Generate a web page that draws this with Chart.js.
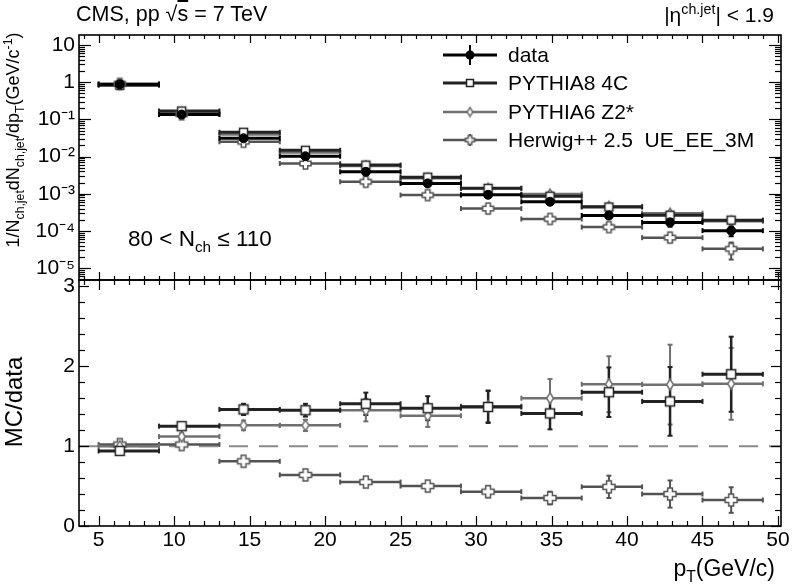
<!DOCTYPE html>
<html><head><meta charset="utf-8">
<script src="https://cdn.jsdelivr.net/npm/chart.js@4.4.1/dist/chart.umd.min.js"></script>
<style>
html,body{margin:0;padding:0;background:#fff;}
#wrap{position:relative;width:793px;height:587px;overflow:hidden;font-family:"Liberation Sans",Arial,Helvetica,sans-serif;color:#000;background:#fff;}
canvas{position:absolute;left:0;top:0;}
.t{position:absolute;white-space:nowrap;line-height:1;}
.t sub,.t sup{font-size:68%;line-height:0;}
.rot{transform:translate(-50%,-50%) rotate(-90deg);transform-origin:center center;}
</style></head><body>
<div id="wrap">
<canvas id="low" width="793" height="587"></canvas>
<canvas id="up" width="793" height="587"></canvas>
<div class="t" style="left:76px;top:4px;font-size:21.5px;">CMS, pp &#8730;<span style="text-decoration:overline">s</span> = 7 TeV</div>
<div class="t" style="right:19px;top:4px;font-size:21px;">|&#951;<sup>ch.jet</sup>| &lt; 1.9</div>
<div class="t" style="left:128px;top:228px;font-size:22.5px;">80 &lt; N<sub>ch</sub> &#8804; 110</div>
<div class="t rot" style="left:13px;top:140px;font-size:18px;">1/N<sub>ch,jet</sub>dN<sub>ch,jet</sub>/dp<sub>T</sub>(GeV/c<sup>-1</sup>)</div>
<div class="t rot" style="left:14px;top:402px;font-size:24px;">MC/data</div>
<div class="t" style="right:18px;top:557px;font-size:23px;">p<sub>T</sub>(GeV/c)</div>
<div class="t" style="left:508px;top:44px;font-size:21px;">data</div>
<div class="t" style="left:508px;top:72px;font-size:21px;">PYTHIA8 4C</div>
<div class="t" style="left:508px;top:101px;font-size:21px;">PYTHIA6 Z2*</div>
<div class="t" style="left:508px;top:129px;font-size:21px;">Herwig++ 2.5&nbsp; UE_EE_3M</div>
</div>
<script>
// ---------- data ----------
const binLo  = [5, 9, 13, 17, 21, 25, 29, 33, 37, 41, 45];
const binHi  = [9, 13, 17, 21, 25, 29, 33, 37, 41, 45, 49];
const meanPt = [6.4, 10.5, 14.6, 18.7, 22.7, 26.8, 30.8, 34.9, 38.8, 42.85, 46.9];

const dataVal = [0.88, 0.135, 0.031, 0.0102, 0.0039, 0.0019, 9.4e-4, 6.1e-4, 2.6e-4, 1.7e-4, 1.02e-4];
const dataErr = [0.03, 0.004, 0.001, 0.0004, 0.00018, 0.0001, 6e-5, 5e-5, 3e-5, 4e-5, 3e-5];
const p8Val   = [0.83, 0.168, 0.045, 0.0148, 0.0059, 0.0028, 0.0014, 8.6e-4, 4.4e-4, 2.65e-4, 1.95e-4];
const p8Err   = [0.01, 0.002, 0.0005, 0.0002, 0.0001, 5e-5, 3e-5, 2e-5, 1.5e-5, 1.2e-5, 1e-5];
const p6Val   = [0.88, 0.152, 0.039, 0.0128, 0.0056, 0.0026, 0.0014, 9.8e-4, 4.6e-4, 3.0e-4, 1.82e-4];
const p6Err   = [0.01, 0.002, 0.0005, 0.0002, 0.0001, 5e-5, 3e-5, 2e-5, 1.5e-5, 1.2e-5, 1e-5];
const hwVal   = [0.90, 0.138, 0.025, 0.0065, 0.0021, 9.2e-4, 4.0e-4, 2.1e-4, 1.27e-4, 6.6e-5, 3.3e-5];
const hwErr   = [0.01, 0.002, 0.0004, 0.0001, 4e-5, 2e-5, 1.5e-5, 1.5e-5, 1.5e-5, 1.5e-5, 1.6e-5];

const p8Ratio    = [0.94, 1.25, 1.46, 1.45, 1.53, 1.475, 1.49, 1.41, 1.675, 1.56, 1.90];
const p8RatioErr = [0.02, 0.04, 0.07, 0.08, 0.14, 0.15, 0.20, 0.20, 0.31, 0.43, 0.47];
const p6Ratio    = [1.00, 1.12, 1.26, 1.26, 1.45, 1.38, 1.50, 1.60, 1.775, 1.77, 1.78];
const p6RatioErr = [0.02, 0.04, 0.06, 0.07, 0.14, 0.14, 0.20, 0.24, 0.35, 0.50, 0.45];
const hwRatio    = [1.02, 1.02, 0.81, 0.64, 0.55, 0.50, 0.43, 0.35, 0.49, 0.40, 0.325];
const hwRatioErr = [0.02, 0.02, 0.03, 0.03, 0.04, 0.05, 0.07, 0.08, 0.14, 0.17, 0.16];

const xTickVals = [5, 10, 15, 20, 25, 30, 35, 40, 45, 50];
const xTickLabels = ['5','10','15','20','25','30','35','40','45','50'];
const upperTickVals = [1e-5, 1e-4, 1e-3, 1e-2, 1e-1, 1, 10];
const upperTickLabels = ['10\u207B\u2075','10\u207B\u2074','10\u207B\u00B3','10\u207B\u00B2','10\u207B\u00B9','1','10'];
const lowerTickVals = [0, 1, 2, 3];
const lowerTickLabels = ['0','1','2','3'];

// ---------- styles ----------
const FONT = '"Liberation Sans", Arial, Helvetica, sans-serif';
const C_DATA = '#000000', C_P8 = '#222222', C_P6 = '#707070', C_HW = '#535353';

function makeMarker(type, color, s) {
  const c = document.createElement('canvas');
  const w = (type === 'diamond') ? Math.round(s * 0.75) + 4 : s + 4;
  const h = s + 4;
  c.width = w; c.height = h;
  const g = c.getContext('2d');
  g.lineWidth = 1.5; g.strokeStyle = color; g.fillStyle = '#fff';
  const cx = w / 2, cy = h / 2, r = s / 2;
  g.beginPath();
  if (type === 'square') {
    g.rect(cx - r + 0.5, cy - r + 0.5, s - 1, s - 1);
  } else if (type === 'diamond') {
    const rx = r * 0.62;
    g.moveTo(cx, cy - r); g.lineTo(cx + rx, cy); g.lineTo(cx, cy + r); g.lineTo(cx - rx, cy); g.closePath();
  } else if (type === 'cross') {
    const a = r * 0.4, L = r;
    const pts = [[-a,-L],[a,-L],[a,-a],[L,-a],[L,a],[a,a],[a,L],[-a,L],[-a,a],[-L,a],[-L,-a],[-a,-a]];
    pts.forEach((p, i) => { if (i) g.lineTo(cx + p[0], cy + p[1]); else g.moveTo(cx + p[0], cy + p[1]); });
    g.closePath();
  }
  g.fill(); g.stroke();
  return c;
}

function mkPoints(xs, ys, es) {
  return xs.map((x, i) => ({ x: x, y: ys[i], xMin: binLo[i], xMax: binHi[i], yMin: ys[i] - es[i], yMax: ys[i] + es[i] }));
}

function line(g, x0, y0, x1, y1) { g.beginPath(); g.moveTo(x0, y0); g.lineTo(x1, y1); g.stroke(); }

const errorBars = {
  id: 'errorBars',
  beforeDatasetsDraw(chart, args, opts) {
    const g = chart.ctx, xs = chart.scales.x, ys = chart.scales.y, ca = chart.chartArea;
    g.save();
    g.beginPath(); g.rect(ca.left, ca.top, ca.right - ca.left, ca.bottom - ca.top); g.clip();
    if (opts.unityLine) {
      const y1 = ys.getPixelForValue(1);
      g.strokeStyle = '#8a8a8a'; g.lineWidth = 2; g.setLineDash([19, 11]);
      line(g, ca.left, y1, ca.right, y1);
      g.setLineDash([]);
    }
    for (let i = chart.data.datasets.length - 1; i >= 0; i--) {
      const ds = chart.data.datasets[i];
      g.strokeStyle = ds.barColor;
      ds.data.forEach(p => {
        const x = xs.getPixelForValue(p.x), y = ys.getPixelForValue(p.y);
        const x0 = xs.getPixelForValue(p.xMin), x1 = xs.getPixelForValue(p.xMax);
        g.lineWidth = ds.barWidth;
        line(g, x0, y, x1, y);
        g.lineWidth = 2;
        line(g, x0, y - 2.5, x0, y + 2.5);
        line(g, x1, y - 2.5, x1, y + 2.5);
        const ya = ys.getPixelForValue(p.yMin), yb = ys.getPixelForValue(p.yMax);
        g.lineWidth = ds.vWidth;
        line(g, x, ya, x, yb);
        g.lineWidth = 2;
        line(g, x - 2.5, ya, x + 2.5, ya);
        line(g, x - 2.5, yb, x + 2.5, yb);
      });
    }
    g.restore();
  }
};

const frameTicks = {
  id: 'frameTicks',
  afterDraw(chart, args, opts) {
    const g = chart.ctx, xs = chart.scales.x, ys = chart.scales.y, ca = chart.chartArea;
    g.save();
    g.strokeStyle = '#000'; g.lineWidth = 1.2;
    for (let v = 4; v <= 50; v++) {
      const px = Math.round(xs.getPixelForValue(v)) + 0.5;
      const L = (v % 5 === 0) ? opts.xMajor : opts.xMinor;
      line(g, px, ca.bottom, px, ca.bottom - L);
      line(g, px, ca.top, px, ca.top + L);
    }
    const yt = [];
    if (opts.log) {
      for (let e = -6; e <= 1; e++) {
        for (let k = 1; k <= 9; k++) {
          const v = k * Math.pow(10, e);
          if (v >= ys.min && v <= ys.max) yt.push([v, k === 1 ? opts.yMajor : opts.yMinor]);
        }
      }
    } else {
      for (let k = 0; k <= 15; k++) {
        const v = k * 0.2;
        if (v <= ys.max + 1e-9) yt.push([v, (k % 5 === 0) ? opts.yMajor : opts.yMinor]);
      }
    }
    yt.forEach(([v, L]) => {
      const py = Math.round(ys.getPixelForValue(v)) + 0.5;
      line(g, ca.left, py, ca.left + L, py);
      line(g, ca.right, py, ca.right - L, py);
    });
    g.lineWidth = 1.6;
    g.strokeRect(ca.left, ca.top, ca.right - ca.left, ca.bottom - ca.top);
    g.restore();
    if (opts.legend) drawLegend(g);
  }
};

function drawLegend(g) {
  const x0 = 443, x1 = 497, xm = 470;
  const rows = [
    { y: 55, color: C_DATA, w: 3, mk: 'dot', vbar: 10 },
    { y: 83, color: C_P8, w: 3, mk: makeMarker('square', C_P8, 8) },
    { y: 112, color: C_P6, w: 2.5, mk: makeMarker('diamond', C_P6, 9) },
    { y: 140, color: C_HW, w: 2.5, mk: makeMarker('cross', C_HW, 9), vbar: 6 }
  ];
  g.save();
  rows.forEach(r => {
    g.strokeStyle = r.color; g.lineWidth = r.w;
    line(g, x0, r.y, x1, r.y);
    if (r.vbar) { g.lineWidth = 2; line(g, xm, r.y - r.vbar, xm, r.y + r.vbar); }
    if (r.mk === 'dot') {
      g.fillStyle = r.color; g.beginPath(); g.arc(xm, r.y, 4.5, 0, Math.PI * 2); g.fill();
    } else {
      g.drawImage(r.mk, xm - r.mk.width / 2, r.y - r.mk.height / 2);
    }
  });
  g.restore();
}

const tickFont = { family: FONT, size: 21 };

// ---------- upper panel ----------
new Chart(document.getElementById('up'), {
  type: 'scatter',
  data: { datasets: [
    { label: 'data', data: mkPoints(meanPt, dataVal, dataErr), pointStyle: 'circle', pointRadius: 4.5,
      pointBackgroundColor: C_DATA, pointBorderColor: C_DATA, barColor: C_DATA, barWidth: 3, vWidth: 2.5 },
    { label: 'PYTHIA8 4C', data: mkPoints(meanPt, p8Val, p8Err), pointStyle: makeMarker('square', C_P8, 9), pointRadius: 5,
      barColor: C_P8, barWidth: 3, vWidth: 2 },
    { label: 'PYTHIA6 Z2*', data: mkPoints(meanPt, p6Val, p6Err), pointStyle: makeMarker('diamond', C_P6, 10), pointRadius: 5,
      barColor: C_P6, barWidth: 2.5, vWidth: 2 },
    { label: 'Herwig++ 2.5  UE_EE_3M', data: mkPoints(meanPt, hwVal, hwErr), pointStyle: makeMarker('cross', C_HW, 11), pointRadius: 5,
      barColor: C_HW, barWidth: 2.5, vWidth: 2 }
  ]},
  options: {
    responsive: false, animation: false, devicePixelRatio: 1,
    layout: { padding: { top: 35, right: 12, bottom: 307, left: 0 } },
    plugins: { legend: { display: false }, tooltip: { enabled: false },
      errorBars: {}, frameTicks: { xMajor: 8, xMinor: 4, yMajor: 12, yMinor: 6, log: true, legend: true } },
    scales: {
      x: { type: 'linear', min: 3.7, max: 50.2, display: false },
      y: { type: 'logarithmic', min: 4.8e-6, max: 18.6,
        grid: { display: false, drawTicks: false }, border: { display: false },
        afterFit(s) { s.width = 79; },
        afterBuildTicks(s) { s.ticks = upperTickVals.map(v => ({ value: v })); },
        ticks: { padding: 4, font: tickFont, color: '#000', autoSkip: false,
          callback: (v, i) => upperTickLabels[i] } }
    }
  },
  plugins: [errorBars, frameTicks]
});

// ---------- lower (ratio) panel ----------
new Chart(document.getElementById('low'), {
  type: 'scatter',
  data: { datasets: [
    { label: 'PYTHIA8 4C', data: mkPoints(meanPt, p8Ratio, p8RatioErr), pointStyle: makeMarker('square', C_P8, 10), pointRadius: 5,
      barColor: C_P8, barWidth: 3, vWidth: 2.5 },
    { label: 'PYTHIA6 Z2*', data: mkPoints(meanPt, p6Ratio, p6RatioErr), pointStyle: makeMarker('diamond', C_P6, 11), pointRadius: 5,
      barColor: C_P6, barWidth: 2.5, vWidth: 2 },
    { label: 'Herwig++ 2.5  UE_EE_3M', data: mkPoints(meanPt, hwRatio, hwRatioErr), pointStyle: makeMarker('cross', C_HW, 12), pointRadius: 5,
      barColor: C_HW, barWidth: 2.5, vWidth: 2 }
  ]},
  options: {
    responsive: false, animation: false, devicePixelRatio: 1,
    layout: { padding: { top: 280, right: 12, bottom: 0, left: 0 } },
    plugins: { legend: { display: false }, tooltip: { enabled: false },
      errorBars: { unityLine: true }, frameTicks: { xMajor: 10, xMinor: 5, yMajor: 10, yMinor: 6, log: false } },
    scales: {
      x: { type: 'linear', min: 3.7, max: 50.2,
        grid: { display: false, drawTicks: false }, border: { display: false },
        afterFit(s) { s.height = 61; },
        afterBuildTicks(s) { s.ticks = xTickVals.map(v => ({ value: v })); },
        ticks: { padding: 2, font: tickFont, color: '#000', autoSkip: false, maxRotation: 0,
          callback: (v, i) => xTickLabels[i] } },
      y: { type: 'linear', min: 0, max: 3.08,
        grid: { display: false, drawTicks: false }, border: { display: false },
        afterFit(s) { s.width = 79; },
        afterBuildTicks(s) { s.ticks = lowerTickVals.map(v => ({ value: v })); },
        ticks: { padding: 4, font: tickFont, color: '#000', autoSkip: false,
          callback: (v, i) => lowerTickLabels[i] } }
    }
  },
  plugins: [errorBars, frameTicks]
});
</script>
</body></html>
